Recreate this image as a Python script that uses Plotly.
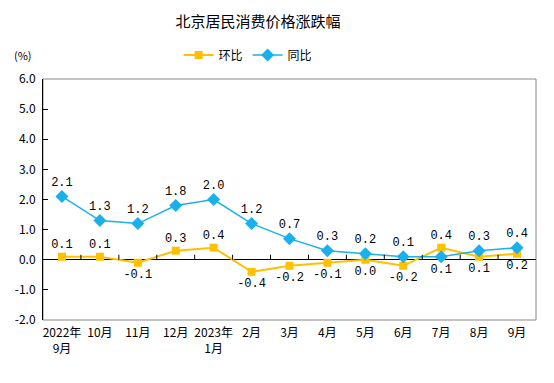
import plotly.graph_objects as go

categories = ["2022年<br>9月", "10月", "11月", "12月", "2023年<br>1月", "2月", "3月",
              "4月", "5月", "6月", "7月", "8月", "9月"]
mom = [0.1, 0.1, -0.1, 0.3, 0.4, -0.4, -0.2, -0.1, 0.0, -0.2, 0.4, 0.1, 0.2]
yoy = [2.1, 1.3, 1.2, 1.8, 2.0, 1.2, 0.7, 0.3, 0.2, 0.1, 0.1, 0.3, 0.4]
y_ticks = [-2, -1, 0, 1, 2, 3, 4, 5, 6]

mom_pos = ["top center" if i in (0, 1, 3, 4, 10) else "bottom center" for i in range(len(mom))]
yoy_pos = ["bottom center" if i == 10 else "top center" for i in range(len(yoy))]

x_idx = list(range(len(categories)))
label_font = dict(family="Liberation Mono, DejaVu Sans Mono, monospace", size=12, color="#000000")

W, H = 546, 375  # page body has an 8px margin in the 554x383 window

fig = go.Figure()
fig.add_trace(go.Scatter(
    x=x_idx, y=mom, name="环比", mode="lines+markers+text",
    line=dict(color="#FFC000", width=2),
    marker=dict(symbol="square", size=8, color="#FFC000"),
    text=[f"{v:.1f}" for v in mom], textposition=mom_pos, textfont=label_font,
    hoverinfo="skip"))
fig.add_trace(go.Scatter(
    x=x_idx, y=yoy, name="同比", mode="lines+markers+text",
    line=dict(color="#1AB0EC", width=1.5),
    marker=dict(symbol="diamond", size=10, color="#1AB0EC"),
    text=[f"{v:.1f}" for v in yoy], textposition=yoy_pos, textfont=label_font,
    hoverinfo="skip"))

shapes = [dict(type="rect", xref="x domain", yref="y domain", x0=0, x1=1, y0=0, y1=1,
               line=dict(color="#888888", width=1), layer="below")]
for i in range(len(categories) - 1):
    shapes.append(dict(type="line", xref="x", yref="y", x0=i + 0.5, x1=i + 0.5,
                       ysizemode="pixel", yanchor=0, y0=0, y1=5,
                       line=dict(color="#000000", width=1)))

fig.update_layout(
    width=W, height=H,
    margin=dict(l=35, r=18, t=71, b=63, autoexpand=False),
    paper_bgcolor="white", plot_bgcolor="white",
    font=dict(family="Noto Sans CJK SC, sans-serif", color="#000000"),
    title=dict(text="北京居民消费价格涨跌幅", x=250 / W, xanchor="center",
               y=1 - 14 / H, yanchor="middle", font=dict(size=15, color="#000000")),
    showlegend=True,
    legend=dict(orientation="h", x=0.416, xanchor="center", yref="container",
                y=1 - 47 / H, yanchor="middle",
                font=dict(size=12, color="#000000"), itemwidth=30,
                bgcolor="rgba(0,0,0,0)"),
    xaxis=dict(range=[-0.5, len(categories) - 0.5], tickmode="array", automargin=False,
               tickvals=x_idx, ticktext=categories, showgrid=False, zeroline=False,
               showline=False, ticks="", ticklabelstandoff=4,
               tickfont=dict(size=12, color="#000000")),
    yaxis=dict(range=[-2, 6], tickmode="array", tickvals=y_ticks, automargin=False,
               ticktext=[f"{v:.1f}" for v in y_ticks], showgrid=False,
               zeroline=True, zerolinecolor="#000000", zerolinewidth=1,
               showline=True, linecolor="#000000", linewidth=1,
               ticks="inside", ticklen=5, tickcolor="#000000", ticklabelstandoff=4,
               tickfont=dict(size=12, color="#000000")),
    shapes=shapes,
    annotations=[dict(text="(%)", xref="paper", yref="paper", x=-0.0406, y=1 + 24 / 241,
                      xanchor="center", yanchor="middle", showarrow=False,
                      font=dict(size=11, color="#000000"))],
)

fig.write_html("out.html")
